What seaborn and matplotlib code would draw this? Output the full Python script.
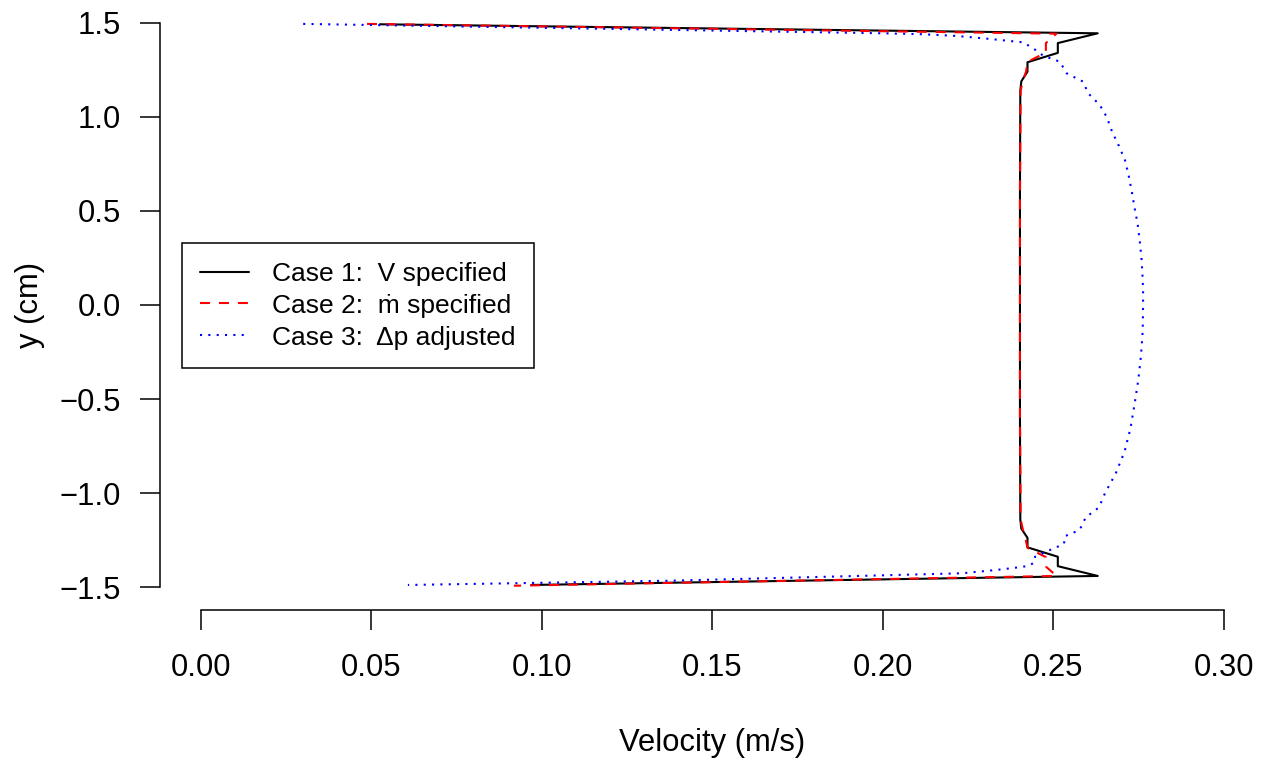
import matplotlib
matplotlib.use("Agg")
import matplotlib.pyplot as plt
import pandas as pd
import seaborn as sns

# ================= data =================
# Case 1: V specified
case1_y = [1.493, 1.445, 1.393, 1.341, 1.291, 1.241, 1.190, 1.140, 0.600, 0.000,
           -0.600, -1.140, -1.190, -1.238, -1.289, -1.339, -1.389, -1.441, -1.489]
case1_v = [0.0525, 0.2630, 0.2513, 0.2513, 0.2424, 0.2424, 0.2406, 0.2403, 0.2402, 0.2402,
           0.2402, 0.2403, 0.2406, 0.2424, 0.2424, 0.2513, 0.2513, 0.2630, 0.0969]

# Case 2: m-dot specified
case2_y = [1.495, 1.443, 1.393, 1.343, 1.293, 1.243, 1.190, 1.140, 0.600, 0.000,
           -0.600, -1.140, -1.190, -1.241, -1.291, -1.341, -1.391, -1.441, -1.493]
case2_v = [0.0487, 0.2509, 0.2478, 0.2478, 0.2424, 0.2420, 0.2410, 0.2404, 0.2402, 0.2402,
           0.2402, 0.2404, 0.2410, 0.2418, 0.2424, 0.2478, 0.2478, 0.2509, 0.0918]

# Case 3: dp adjusted
case3_y = [1.495, 1.445, 1.440, 1.431, 1.415, 1.397, 1.365, 1.326, 1.294, 1.232,
           1.188, 1.126, 1.064, 0.998, 0.922, 0.847, 0.770, 0.686, 0.603, 0.518,
           0.432, 0.344, 0.257, 0.169, 0.082, 0.000, -0.137, -0.268, -0.399, -0.528,
           -0.656, -0.778, -0.895, -1.002, -1.076, -1.129, -1.193, -1.214, -1.229, -1.271,
           -1.303, -1.339, -1.371, -1.388, -1.400, -1.410, -1.427, -1.466, -1.489]
case3_v = [0.0300, 0.2000, 0.2118, 0.2216, 0.2314, 0.2411, 0.2441, 0.2470, 0.2519, 0.2539,
           0.2587, 0.2602, 0.2636, 0.2657, 0.2672, 0.2692, 0.2710, 0.2721, 0.2730, 0.2738,
           0.2747, 0.2753, 0.2758, 0.2761, 0.2763, 0.2763, 0.2762, 0.2757, 0.2749, 0.2738,
           0.2726, 0.2709, 0.2683, 0.2651, 0.2634, 0.2595, 0.2578, 0.2556, 0.2534, 0.2531,
           0.2490, 0.2446, 0.2443, 0.2426, 0.2377, 0.2328, 0.2231, 0.1385, 0.0607]

labels = ["Case 1:  V specified", "Case 2:  \u1e41 specified", "Case 3:  \u0394p adjusted"]
colors = ["black", "#FF0000", "#0000FF"]
styles = ["-", (0, (4.8, 4.3)), (0, (1, 3))]

x_ticks = [0.00, 0.05, 0.10, 0.15, 0.20, 0.25, 0.30]
x_ticklabels = ["0.00", "0.05", "0.10", "0.15", "0.20", "0.25", "0.30"]
y_ticks = [1.5, 1.0, 0.5, 0.0, -0.5, -1.0, -1.5]
y_ticklabels = ["1.5", "1.0", "0.5", "0.0", "\u22120.5", "\u22121.0", "\u22121.5"]

# ================= plotting =================
sns.set_style("white")
plt.rcParams["font.family"] = ["Liberation Sans", "DejaVu Sans"]
plt.rcParams["text.color"] = "black"
plt.rcParams["axes.labelcolor"] = "black"

W, H = 1261, 763
fig = plt.figure(figsize=(W / 100, H / 100), dpi=100)
# R-like plot region (xlim/ylim padded 4%)
ax = fig.add_axes([160 / W, (H - 609.6) / H, 1104.8 / W, 609.2 / H])

series = [(case1_v, case1_y), (case2_v, case2_y), (case3_v, case3_y)]
for (v, y), lab, col, ls in zip(series, labels, colors, styles):
    df = pd.DataFrame({"v": v, "y": y})
    sns.lineplot(data=df, x="v", y="y", sort=False, estimator=None, errorbar=None,
                 color=col, linestyle=ls, linewidth=1.5, label=lab, ax=ax)

ax.set_xlim(-0.012, 0.312)
ax.set_ylim(-1.62, 1.62)

for s in ["top", "right"]:
    ax.spines[s].set_visible(False)
for s in ["left", "bottom"]:
    ax.spines[s].set_color("black")
    ax.spines[s].set_linewidth(1.1)
ax.spines["left"].set_bounds(-1.5, 1.5)
ax.spines["bottom"].set_bounds(0.0, 0.3)

ax.set_xticks(x_ticks)
ax.set_xticklabels(x_ticklabels)
ax.set_yticks(y_ticks)
ax.set_yticklabels(y_ticklabels)
ax.tick_params(axis="both", direction="out", length=14.4, width=1.1, color="black",
               labelsize=22.3, labelcolor="black", left=True, bottom=True)
ax.tick_params(axis="y", pad=14)
ax.tick_params(axis="x", pad=17)

ax.set_xlabel("Velocity (m/s)", fontsize=22.3, color="black")
ax.set_ylabel("y (cm)", fontsize=22.3, color="black")
ax.xaxis.set_label_coords(0.5, -0.195)
ax.yaxis.set_label_coords(-0.104, 0.5)

leg = ax.legend(loc="upper left", bbox_to_anchor=(181.7 / W, 1 - 243.3 / H),
                bbox_transform=fig.transFigure, borderaxespad=0, fontsize=19,
                frameon=True, fancybox=False, framealpha=1, edgecolor="black",
                handlelength=1.86, handletextpad=0.87, labelspacing=0.3,
                borderpad=0.7)
leg.get_frame().set_linewidth(1.1)
for t in leg.get_texts():
    t.set_color("black")

fig.savefig("out.png", dpi=100)
